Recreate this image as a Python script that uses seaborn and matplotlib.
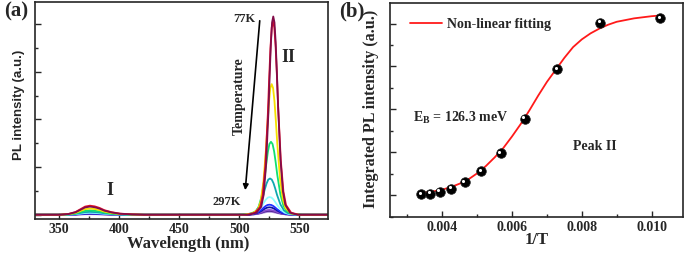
import numpy as np
import pandas as pd
import seaborn as sns
import matplotlib.pyplot as plt
from matplotlib.ticker import MultipleLocator, NullFormatter
from matplotlib.transforms import offset_copy

# ---- data ----
# (a) PL spectra, 77K ... 297K (top -> bottom)
curve_colors = ['#820c48', '#e8102a', '#f5e000', '#10e070', '#10a8b0', '#90ffff',
                '#2030ff', '#1010a0', '#8a50d0', '#502090', '#b090e0']
peak2_height = [4.16, 4.05, 2.74, 1.53, 0.76, 0.37, 0.21, 0.155, 0.10, 0.08, 0.06]
peak2_center = [528.2, 528.0, 526.9, 526.3, 525.5, 525.2, 525.0, 525.0, 525.0, 525.0, 525.0]
peak2_width = [1.0, 1.08, 1.15, 1.3, 1.45, 1.55, 1.6, 1.65, 1.65, 1.65, 1.65]
peak1_height = [0.17, 0.19, 0.13, 0.09, 0.06, 0.04, 0.03, 0.025, 0.02, 0.015, 0.01]

# peak shapes (offset in nm, relative height)
p1_offset = [-25, -18, -12, -8, -4, 0, 4, 8, 12, 18, 25, 35, 45]
p1_rel = [0, 0.08, 0.3, 0.6, 0.9, 1, 0.92, 0.75, 0.5, 0.28, 0.12, 0.04, 0]
p1_center = 375.7
p2_offset = [-20, -14, -10, -8, -6, -4, -3, -2, -1, 0, 1, 2, 3, 4, 6, 8, 10, 14, 20]
p2_rel = [0, 0.01, 0.04, 0.1, 0.25, 0.52, 0.7, 0.86, 0.97, 1, 0.97, 0.87, 0.72,
          0.55, 0.28, 0.12, 0.05, 0.01, 0]

# (b) integrated intensity of peak II
inv_T = [0.00340, 0.00365, 0.00393, 0.00426, 0.00464, 0.00511, 0.00567,
         0.00636, 0.00729, 0.00852, 0.01025]
integ = [0.02, 0.04, 0.085, 0.155, 0.31, 0.56, 0.98, 1.78, 2.93, 4.02, 4.13]

fit_x = [0.00340, 0.00375, 0.00400, 0.00425, 0.00450, 0.00475, 0.00500, 0.00525,
         0.00550, 0.00575, 0.00600, 0.00625, 0.00650, 0.00675, 0.00700, 0.00725,
         0.00750, 0.00775, 0.00800, 0.00825, 0.00850, 0.00875, 0.00900, 0.00950,
         0.01000, 0.01030]
fit_y = [0.05, 0.09, 0.13, 0.19, 0.27, 0.37, 0.51, 0.68, 0.88, 1.10, 1.37, 1.66,
         1.98, 2.32, 2.64, 2.92, 3.20, 3.45, 3.63, 3.77, 3.88, 3.97, 4.04, 4.12,
         4.17, 4.19]

sns.set_style("ticks")
plt.rcParams['font.family'] = ['Liberation Serif', 'DejaVu Serif']
plt.rcParams['font.weight'] = 'bold'
plt.rcParams['axes.linewidth'] = 1.2

fig = plt.figure(figsize=(6.85, 2.54), dpi=100)
ax1 = fig.add_axes([0.0511, 0.1378, 0.4282, 0.8555])
ax2 = fig.add_axes([0.5693, 0.1469, 0.4277, 0.840])

# ---- (a) spectra ----
rows = []
for i in range(len(curve_colors)):
    xs = [330] + [p1_center + o for o in p1_offset] + \
         [peak2_center[i] + o * peak2_width[i] for o in p2_offset] + [575]
    ys = [0] + [peak1_height[i] * r for r in p1_rel] + \
         [peak2_height[i] * r for r in p2_rel] + [0]
    for x, y in zip(xs, ys):
        rows.append({'wl': x, 'I': y, 'curve': i})
spec = pd.DataFrame(rows)

for i in reversed(range(len(curve_colors))):
    sns.lineplot(data=spec[spec.curve == i], x='wl', y='I', ax=ax1,
                 color=curve_colors[i], lw=1.3, sort=False)

ax1.set_xlim(330, 574)
ax1.set_ylim(-0.09, 4.47)
ax1.xaxis.set_major_locator(MultipleLocator(50))
ax1.xaxis.set_minor_locator(MultipleLocator(25))
ax1.yaxis.set_major_locator(MultipleLocator(1))
ax1.yaxis.set_minor_locator(MultipleLocator(0.5))
ax1.yaxis.set_major_formatter(NullFormatter())
ax1.tick_params(which='both', direction='in', labelsize=10, pad=3, width=1)
ax1.tick_params(which='major', length=4)
ax1.tick_params(which='minor', length=2)
ax1.set_xlabel('Wavelength (nm)', fontsize=12, fontweight='bold')
ax1.set_ylabel('PL intensity (a.u.)', fontsize=9.5, fontweight='bold',
               family=['Liberation Sans', 'DejaVu Sans'])
ax1.xaxis.set_label_coords(0.522, -0.078)
ax1.yaxis.set_label_coords(-0.034, 0.525)

ax1.text(0.713, 0.92, '77K', transform=ax1.transAxes, ha='center', va='center', fontsize=9)
ax1.text(0.655, 0.078, '297K', transform=ax1.transAxes, ha='center', va='center', fontsize=9)
ax1.text(0.863, 0.745, 'II', transform=ax1.transAxes, ha='center', va='center', fontsize=13)
ax1.text(0.256, 0.133, 'I', transform=ax1.transAxes, ha='center', va='center', fontsize=13)
ax1.text(0.696, 0.566, 'Temperature', transform=ax1.transAxes, ha='center', va='center',
         fontsize=10, rotation=90)
ax1.annotate('', xy=(0.716, 0.12), xytext=(0.767, 0.925), xycoords='axes fraction',
             arrowprops=dict(arrowstyle='-|>', color='black', lw=1.2, mutation_scale=8))

# ---- (b) integrated intensity ----
fit_df = pd.DataFrame({'x': fit_x, 'y': fit_y})
pts = pd.DataFrame({'x': inv_T, 'y': integ})
sns.lineplot(data=fit_df, x='x', y='y', ax=ax2, color='#ff1a1a', lw=1.3,
             label='Non-linear fitting', sort=False)
sns.scatterplot(data=pts, x='x', y='y', ax=ax2, color='black', s=48,
                edgecolor='#222222', linewidth=0.5, zorder=3)
# small highlight to mimic the sphere markers
shine = offset_copy(ax2.transData, fig=fig, x=-1.0, y=1.0, units='points')
ax2.scatter(pts['x'], pts['y'], s=5, color='white', transform=shine, zorder=4,
            linewidths=0)

ax2.set_xlim(0.0025, 0.0109)
ax2.set_ylim(-0.5, 4.47)
ax2.xaxis.set_major_locator(MultipleLocator(0.002))
ax2.xaxis.set_minor_locator(MultipleLocator(0.001))
ax2.yaxis.set_major_locator(MultipleLocator(1))
ax2.yaxis.set_minor_locator(MultipleLocator(0.5))
ax2.yaxis.set_major_formatter(NullFormatter())
ax2.xaxis.set_major_formatter(plt.FuncFormatter(lambda v, p: f'{v:.3f}'))
ax2.tick_params(which='both', direction='in', labelsize=10, pad=3, width=1)
ax2.tick_params(which='major', length=4)
ax2.tick_params(which='minor', length=2)
ax2.set_xlabel('1/T', fontsize=12, fontweight='bold')
ax2.set_ylabel('Integrated PL intensity (a.u.)', fontsize=11.5, fontweight='bold')
ax2.xaxis.set_label_coords(0.502, -0.072)
ax2.yaxis.set_label_coords(-0.0365, 0.507)

ax2.legend(loc='center left', bbox_to_anchor=(0.068, 0.903), frameon=False,
           fontsize=10, handlelength=2.3, handletextpad=0.4, borderpad=0,
           borderaxespad=0)
ax2.text(0.0785, 0.4625, r'E$_\mathregular{B}$ = 126.3 meV', transform=ax2.transAxes,
         ha='left', va='center', fontsize=10)
ax2.text(0.625, 0.328, 'Peak II', transform=ax2.transAxes, ha='left', va='center',
         fontsize=10)

fig.text(0.023, 0.953, '(a)', ha='center', va='center', fontsize=15, fontweight='bold')
fig.text(0.514, 0.953, '(b)', ha='center', va='center', fontsize=15, fontweight='bold')

plt.savefig('out.png', dpi=100)
